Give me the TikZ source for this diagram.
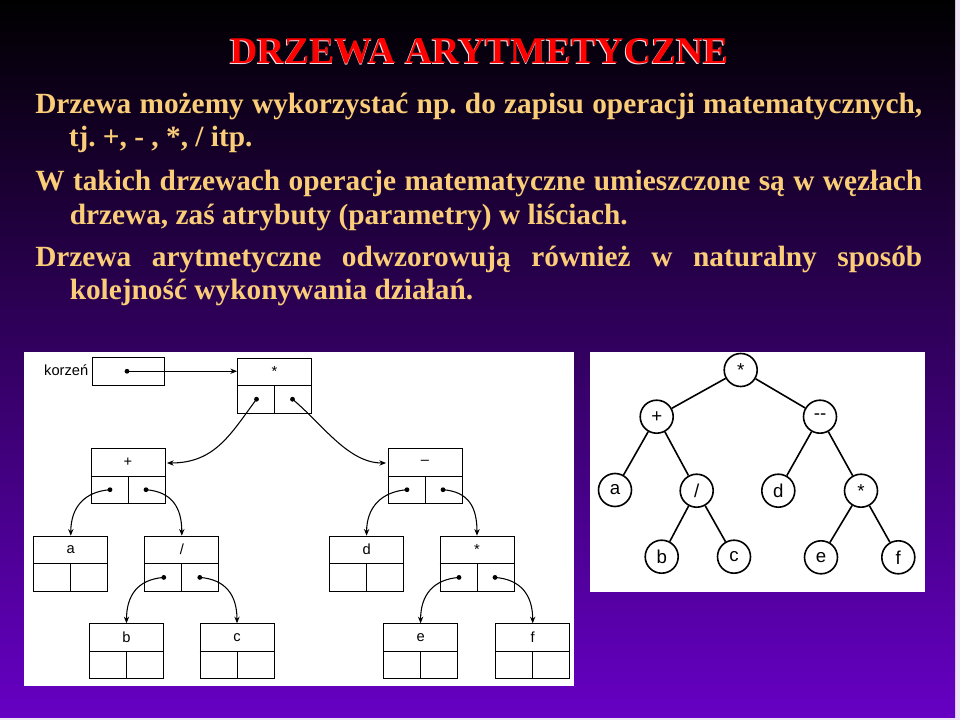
\documentclass[tikz,border=0pt]{standalone}
\usepackage{fontspec}
\setmainfont{Liberation Serif}
\newfontfamily\diagfont{Liberation Sans}
\usetikzlibrary{arrows.meta,calc}
\definecolor{bgp}{RGB}{102,0,196}
\definecolor{txt}{RGB}{250,205,120}
\definecolor{ttl}{RGB}{255,0,0}
\definecolor{ttlhi}{RGB}{235,225,235}
\definecolor{frame}{RGB}{238,228,245}
\newcommand\recbox[4]{%
  \node[rec] (#1) at (#2,#3) {};
  \draw[recline] (#1.west) -- (#1.east) (#1.center) -- (#1.south);
  \node[lbl] (#1-t) at ($(#1.north)!0.5!(#1.center)$) {#4};
}
\newcommand\recdots[1]{%
  \node[ptrdot] (#1-l) at ($(#1.center)+(-18,13.75)$) {};
  \node[ptrdot] (#1-r) at ($(#1.center)+(18,13.75)$) {};
}
\frenchspacing
\begin{document}
\begin{tikzpicture}[x=0.75pt,y=-0.75pt,
  body/.style={anchor=base west, inner sep=0, text=txt, font=\bfseries\fontsize{22}{26}\selectfont},
  ttlstyle/.style={anchor=base, inner sep=0, font=\bfseries\fontsize{28.3}{32}\selectfont},
  rec/.style={draw, line width=0.7pt, minimum width=55.5pt, minimum height=41.25pt, inner sep=0, anchor=north},
  recline/.style={line width=0.7pt},
  lbl/.style={inner sep=0, font=\diagfont\fontsize{11}{13}\selectfont},
  ptrdot/.style={circle, fill, inner sep=0, minimum size=3.6pt},
  ptr/.style={line width=0.8pt, -{Stealth[length=5pt,width=4pt]}},
  cn/.style={circle, draw, line width=1.2pt, minimum size=24.75pt, inner sep=0, font=\diagfont\fontsize{14}{16}\selectfont},
  ce/.style={line width=1.2pt}
]
\useasboundingbox (0,0) rectangle (960,720);
\fill[frame] (0,0) rectangle (960,720);
\shade[top color=black, bottom color=bgp] (0,0) rectangle (955,717.5);

% title
\node[ttlstyle, text=ttlhi] (title-s) at (478.7,64.2) {DRZEWA ARYTMETYCZNE};
\node[ttlstyle, text=ttl] (title) at (479.5,63.3) {DRZEWA ARYTMETYCZNE};

% body text
\node[body] (t1) at (35,113.3) {\makebox[665.25pt][s]{Drzewa możemy wykorzystać np. do zapisu operacji matematycznych,}};
\node[body] (t2) at (68.5,146.7) {tj. +, - , *, / itp.};
\node[body] (t3) at (35,191) {\makebox[665.25pt][s]{W takich drzewach operacje matematyczne umieszczone są w węzłach}};
\node[body] (t4) at (69.5,225) {drzewa, zaś atrybuty (parametry) w liściach.};
\node[body] (t5) at (35,266.7) {\makebox[665.25pt][s]{Drzewa arytmetyczne odwzorowują również w naturalny sposób}};
\node[body] (t6) at (69.5,300) {kolejność wykonywania działań.};

% left picture
\fill[white] (23.5,352) rectangle (574,685.5);
\node[draw, line width=0.7pt, minimum width=54pt, minimum height=20.6pt, inner sep=0] (kbox) at (128.5,371.25) {};
\node[lbl, anchor=east] (klbl) at (88.5,370) {korzeń};
\node[ptrdot] (kdot) at (127,371.25) {};

\recbox{root}{274.5}{357.5}{*}
\recbox{plus}{128}{448}{+}
\recbox{minus}{425}{448}{–}
\recbox{a}{70.8}{535.7}{a}
\recbox{div}{181.8}{535.7}{/}
\recbox{d}{366.6}{535.7}{d}
\recbox{mul}{477}{535.7}{*}
\recbox{b}{126.5}{623.3}{b}
\recbox{c}{237}{623.3}{c}
\recbox{e}{420.6}{623.3}{e}
\recbox{f}{532.7}{623.3}{f}
\recdots{root}
\recdots{plus}
\recdots{minus}
\recdots{div}
\recdots{mul}

\coordinate (plus-in) at ($(plus.north east)+(1.5,15)$);
\coordinate (minus-in) at ($(minus.north west)+(-1.5,15)$);
\draw[ptr] (kdot.center) -- (kdot.center -| root.west);
\draw[ptr] (root-l.center) .. controls +(-26,35) and +(48,0) .. (plus-in);
\draw[ptr] (root-r.center) .. controls +(30,25) and +(-38,0) .. (minus-in);
\draw[ptr] (plus-l.center) .. controls +(-26,2) and +(0,-28) .. (a.north);
\draw[ptr] (plus-r.center) .. controls +(26,2) and +(0,-28) .. (div.north);
\draw[ptr] (minus-l.center) .. controls +(-26,2) and +(0,-28) .. (d.north);
\draw[ptr] (minus-r.center) .. controls +(26,2) and +(0,-28) .. (mul.north);
\draw[ptr] (div-l.center) .. controls +(-26,2) and +(0,-28) .. (b.north);
\draw[ptr] (div-r.center) .. controls +(26,2) and +(0,-28) .. (c.north);
\draw[ptr] (mul-l.center) .. controls +(-26,2) and +(0,-28) .. (e.north);
\draw[ptr] (mul-r.center) .. controls +(26,2) and +(0,-28) .. (f.north);

% right picture
\fill[white] (590,352) rectangle (925,592);
\node[cn] (r) at (740.7,370) {*};
\node[cn] (p) at (656.7,416.7) {+};
\node[cn] (m) at (820,416.7) {-{}-};
\node[cn] (ra) at (615,490) {a};
\node[cn] (rdiv) at (696.7,490.7) {/};
\node[cn] (rd) at (778.3,490.7) {d};
\node[cn] (rmul) at (861,490.7) {*};
\node[cn] (rb) at (661.7,556.7) {b};
\node[cn] (rc) at (734,556.7) {c};
\node[cn] (re) at (821,557.3) {e};
\node[cn] (rf) at (898.3,557.3) {f};
\draw[ce] (r) -- (p);
\draw[ce] (r) -- (m);
\draw[ce] (p) -- (ra);
\draw[ce] (p) -- (rdiv);
\draw[ce] (m) -- (rd);
\draw[ce] (m) -- (rmul);
\draw[ce] (rdiv) -- (rb);
\draw[ce] (rdiv) -- (rc);
\draw[ce] (rmul) -- (re);
\draw[ce] (rmul) -- (rf);
\end{tikzpicture}
\end{document}
